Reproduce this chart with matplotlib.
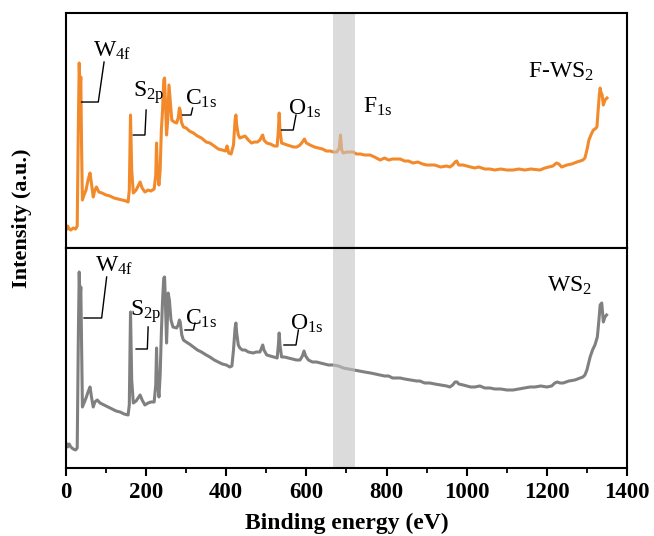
import matplotlib
matplotlib.use("Agg")
import matplotlib.pyplot as plt
from matplotlib.ticker import MultipleLocator

plt.rcParams['font.family'] = ['Liberation Serif', 'DejaVu Serif']
plt.rcParams['mathtext.fontset'] = 'custom'
plt.rcParams['mathtext.rm'] = 'Liberation Serif'
plt.rcParams['mathtext.it'] = 'Liberation Serif'

# ---------------- data (binding energy eV, intensity a.u.) ----------------
fws2_energy = [0, 4, 8, 12, 18, 24, 28, 31, 33, 35, 37, 39, 41, 45, 50, 55, 60, 64, 68, 72, 76, 82, 90, 100,
               110, 120, 130, 140, 150, 155, 158, 161, 164, 168, 175, 180, 185, 190, 197, 205, 212, 220, 224,
               226, 228, 232, 235, 238, 241, 244, 246, 248, 251, 254, 257, 260, 264, 270, 276, 280, 283, 285,
               288, 293, 300, 308, 318, 328, 338, 350, 359, 370, 380, 390, 398, 402, 406, 412, 418, 422, 424,
               426, 430, 434, 440, 447, 455, 463, 470, 478, 484, 489, 491, 494, 501, 510, 520, 527, 530, 532,
               534, 538, 545, 552, 560, 568, 576, 584, 590, 595, 600, 609, 620, 630, 640, 650, 660, 667, 676,
               682, 685, 688, 692, 700, 710, 717, 725, 735, 745, 759, 770, 784, 795, 805, 815, 834, 845, 855,
               866, 878, 890, 900, 908, 920, 935, 950, 958, 965, 971, 975, 980, 991, 1000, 1010, 1020, 1030,
               1045, 1058, 1070, 1085, 1100, 1116, 1130, 1145, 1160, 1183, 1195, 1205, 1215, 1224, 1230, 1237,
               1250, 1262, 1275, 1283, 1290, 1295, 1300, 1305, 1310, 1316, 1320, 1325, 1328, 1331, 1333, 1335,
               1338, 1341, 1345, 1350]
fws2_intensity = [18, 22, 19, 18, 20, 19, 22, 128, 185, 158, 171, 98, 48, 53, 58, 68, 75, 63, 51, 58, 61, 56,
                  55, 53, 52, 50, 49, 48, 47, 46, 58, 133, 78, 55, 58, 62, 66, 60, 56, 58, 57, 59, 73, 105, 78,
                  63, 78, 118, 138, 168, 170, 148, 113, 128, 163, 148, 128, 126, 125, 130, 140, 138, 126, 121,
                  120, 117, 115, 112, 110, 106, 105, 102, 99, 98, 97, 102, 95, 94, 103, 128, 133, 123, 113, 110,
                  111, 112, 108, 105, 106, 106, 108, 112, 113, 108, 105, 104, 102, 102, 118, 135, 118, 105, 104,
                  103, 102, 101, 101, 103, 106, 109, 105, 103, 101, 100, 99, 97, 97, 96, 96, 100, 113, 98, 95,
                  96, 96, 96, 94, 94, 93, 93, 91, 88, 90, 88, 89, 89, 87, 87, 85, 86, 84, 83, 83, 83, 81, 82, 81,
                  83, 86, 87, 83, 83, 82, 81, 80, 81, 79, 79, 78, 79, 78, 78, 79, 78, 79, 78, 80, 81, 82, 85, 84,
                  81, 83, 84, 86, 87, 88, 90, 98, 108, 113, 118, 119, 121, 138, 153, 160, 156, 153, 143, 148, 150]

ws2_energy = [0, 4, 8, 12, 18, 24, 28, 31, 33, 35, 37, 39, 41, 45, 50, 55, 60, 64, 68, 72, 78, 85, 95, 105,
              115, 125, 135, 145, 155, 158, 161, 164, 168, 175, 180, 185, 190, 197, 205, 212, 220, 224, 226,
              228, 232, 235, 238, 241, 244, 246, 248, 251, 253, 255, 258, 262, 267, 276, 280, 283, 285, 289,
              293, 300, 308, 318, 328, 338, 350, 359, 370, 380, 390, 400, 409, 414, 418, 422, 424, 426, 430,
              434, 440, 447, 455, 467, 475, 484, 489, 491, 494, 501, 510, 520, 527, 530, 532, 534, 538, 545,
              555, 565, 575, 584, 590, 594, 598, 605, 615, 625, 635, 645, 655, 667, 680, 692, 705, 717, 730,
              745, 760, 772, 784, 795, 805, 815, 834, 845, 860, 875, 883, 895, 908, 920, 935, 950, 958, 965,
              971, 976, 980, 991, 1000, 1010, 1020, 1033, 1045, 1058, 1070, 1085, 1100, 1116, 1130, 1145,
              1158, 1170, 1185, 1200, 1212, 1220, 1226, 1233, 1241, 1255, 1270, 1283, 1290, 1295, 1300, 1305,
              1308, 1314, 1320, 1326, 1330, 1333, 1337, 1339, 1341, 1345, 1349]
ws2_intensity = [25, 21, 24, 21, 19, 18, 20, 138, 196, 168, 181, 118, 61, 65, 70, 76, 81, 70, 61, 66, 68, 65,
                 63, 61, 59, 57, 56, 54, 53, 63, 156, 88, 65, 67, 70, 73, 68, 63, 65, 66, 66, 83, 120, 88, 71,
                 93, 135, 168, 190, 191, 168, 125, 148, 175, 168, 148, 141, 140, 143, 148, 146, 133, 128, 126,
                 124, 121, 118, 116, 113, 111, 108, 106, 104, 103, 101, 102, 118, 140, 145, 135, 123, 120, 118,
                 118, 116, 115, 116, 116, 121, 123, 118, 113, 112, 111, 110, 123, 135, 123, 111, 111, 110, 109,
                 108, 108, 112, 117, 112, 108, 106, 106, 105, 104, 103, 103, 102, 100, 99, 98, 97, 96, 95, 94,
                 93, 92, 92, 90, 90, 89, 88, 87, 87, 85, 85, 84, 83, 82, 81, 83, 86, 86, 84, 83, 82, 81, 81, 82,
                 80, 80, 79, 79, 78, 78, 79, 80, 81, 81, 82, 81, 82, 85, 86, 85, 85, 87, 88, 90, 91, 93, 98, 106,
                 111, 118, 123, 131, 148, 163, 165, 156, 146, 151, 153]

sample_names = ['F-WS$_2$', 'WS$_2$']
line_colors = ['#F28A2B', '#808080']
x_ticks = [0, 200, 400, 600, 800, 1000, 1200, 1400]
f_band = (666, 721)

# ---------------- figure ----------------
fig = plt.figure(figsize=(6.54, 5.36), dpi=100)
ax_top = fig.add_axes([0.1009, 0.5373, 0.8578, 0.4384])
ax_bot = fig.add_axes([0.1009, 0.1269, 0.8578, 0.4104])

ax_top.plot(fws2_energy, fws2_intensity, color=line_colors[0], lw=2.2, zorder=2)
ax_bot.plot(ws2_energy, ws2_intensity, color=line_colors[1], lw=2.2, zorder=2)

for ax, ymax in ((ax_top, 235), (ax_bot, 220)):
    ax.axvspan(*f_band, color='#c4c4c4', alpha=0.6, lw=0, zorder=3)
    ax.set_xlim(0, 1400)
    ax.set_ylim(0, ymax)
    ax.set_yticks([])
    for s in ax.spines.values():
        s.set_linewidth(1.5)
        s.set_zorder(5)

ax_top.tick_params(axis='x', which='both', bottom=False, labelbottom=False)
ax_bot.set_xticks(x_ticks)
ax_bot.xaxis.set_minor_locator(MultipleLocator(100))
ax_bot.tick_params(axis='x', which='major', direction='out', length=6, width=1.5, labelsize=16.5, pad=4)
ax_bot.tick_params(axis='x', which='minor', direction='out', length=3.5, width=1.3)
for lab in ax_bot.get_xticklabels():
    lab.set_fontweight('bold')
ax_bot.set_xlabel('Binding energy (eV)', fontsize=17, fontweight='bold', labelpad=7)
fig.text(0.034, 0.593, 'Intensity (a.u.)', rotation=90, fontsize=16, fontweight='bold',
         ha='center', va='center')

lbl = dict(fontsize=17, ha='left', va='baseline', color='black')
lead = dict(color='black', lw=1.0)

# top panel labels
ax_top.text(67, 191, 'W$_{4f}$', **lbl)
ax_top.plot([39, 80.6, 95], [146, 146, 186], **lead)
ax_top.text(167, 151, 'S$_{2p}$', **lbl)
ax_top.plot([168, 197, 200], [113, 113, 138], **lead)
ax_top.text(297, 143, 'C$_{1s}$', **lbl)
ax_top.plot([291, 312, 316], [133, 133, 140], **lead)
ax_top.text(554, 133, 'O$_{1s}$', **lbl)
ax_top.plot([538, 567, 574], [118, 118, 133], **lead)
ax_top.text(741, 135, 'F$_{1s}$', **lbl)
ax_top.text(1153, 170, sample_names[0], **lbl)

# bottom panel labels
ax_bot.text(72, 196, 'W$_{4f}$', **lbl)
ax_bot.plot([45, 89, 101.5], [150, 150, 191], **lead)
ax_bot.text(160, 152, 'S$_{2p}$', **lbl)
ax_bot.plot([175, 203, 205], [119, 119, 141], **lead)
ax_bot.text(297, 143, 'C$_{1s}$', **lbl)
ax_bot.plot([297, 318, 322], [138, 138, 145], **lead)
ax_bot.text(559, 138, 'O$_{1s}$', **lbl)
ax_bot.plot([544, 574, 580], [123, 123, 138], **lead)
ax_bot.text(1200, 176, sample_names[1], **lbl)

fig.savefig('out.png', dpi=100)
